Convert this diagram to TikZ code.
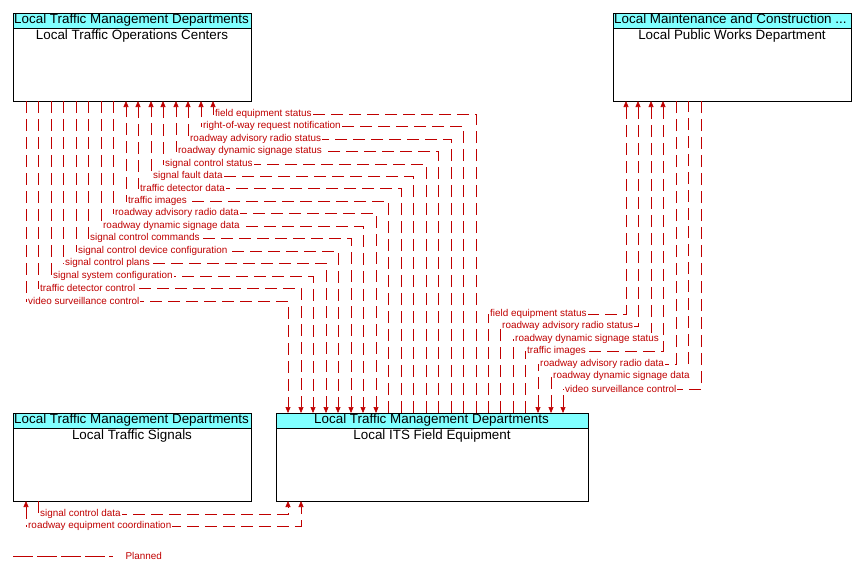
\documentclass[tikz,border=0pt]{standalone}
\usepackage{fontspec}
\setmainfont{Liberation Sans}
\usetikzlibrary{arrows.meta}
\definecolor{fl}{RGB}{192,0,0}
\definecolor{hd}{RGB}{128,255,255}
\tikzset{
 flow/.style={draw=fl,line width=0.6pt,dash pattern=on 12pt off 6pt,arrows={-Triangle[width=5pt,length=6pt]}},
 flowb/.style={flow,arrows={Triangle[width=5pt,length=6pt]-Triangle[width=5pt,length=6pt]}},
 lab/.style={text=fl,font=\fontsize{9.9}{10}\selectfont,fill=white,inner sep=1pt,anchor=west},
 hdr/.style={font=\fontsize{13.4}{14}\selectfont},
}
\newcommand{\ent}[6]{% name x1 y1 x2 y2 header
 \fill[hd] (#2,#3) rectangle (#4,#3+15);
 \draw[line width=0.8pt] (#2,#3) rectangle (#4,#5);
 \draw[line width=0.8pt] (#2,#3+15) -- (#4,#3+15);
 \node[hdr,anchor=north west,inner sep=0pt] at (#2+1,#3+1) {#6};
 \coordinate (#1) at (#2,#3);}
\newcommand{\ttl}[3]{\node[hdr,anchor=north,inner sep=0pt] at (#1,#2) {#3};}
\newcommand{\fl}[7]{%
 \coordinate (s) at (#1,#2); \coordinate (t) at (#4,#5);
 \draw[#7] (s) -- (#1,#3) -- (#4,#3) -- (t);
 \pgfmathsetmacro\lx{min(#1,#4)+1}
 \node[lab] at (\lx,#3) {#6};}
\begin{document}
\begin{tikzpicture}[x=1pt,y=-1pt]
\useasboundingbox (0,0) rectangle (860,574);
\ent{ltoc}{13}{13}{251}{101}{Local Traffic Management Departments}
\ttl{132}{30}{Local Traffic Operations Centers}
\ent{lpwd}{613}{13}{851}{101}{Local Maintenance and Construction ...}
\ttl{732}{30}{Local Public Works Department}
\ent{lts}{13}{413}{251}{501}{Local Traffic Management Departments}
\ttl{132}{430}{Local Traffic Signals}
\ent{lits}{276}{413}{588}{501}{\hspace{37pt}Local Traffic Management Departments}
\ttl{432}{430}{Local ITS Field Equipment}
\fl{476}{413}{114}{213}{101}{field equipment status}{flow}
\fl{463}{413}{126}{201}{101}{right-of-way request notification}{flow}
\fl{451}{413}{139}{188}{101}{roadway advisory radio status}{flow}
\fl{438}{413}{151}{176}{101}{roadway dynamic signage status}{flow}
\fl{426}{413}{164}{163}{101}{signal control status}{flow}
\fl{413}{413}{176}{151}{101}{signal fault data}{flow}
\fl{401}{413}{188}{138}{101}{traffic detector data}{flow}
\fl{388}{413}{201}{126}{101}{traffic images}{flow}
\fl{113}{101}{213}{376}{413}{roadway advisory radio data}{flow}
\fl{101}{101}{226}{363}{413}{roadway dynamic signage data}{flow}
\fl{88}{101}{238}{351}{413}{signal control commands}{flow}
\fl{76}{101}{251}{338}{413}{signal control device configuration}{flow}
\fl{63}{101}{263}{326}{413}{signal control plans}{flow}
\fl{51}{101}{276}{313}{413}{signal system configuration}{flow}
\fl{38}{101}{288}{301}{413}{traffic detector control}{flow}
\fl{26}{101}{301}{288}{413}{video surveillance control}{flow}
\fl{488}{413}{314}{626}{101}{field equipment status}{flow}
\fl{500}{413}{326}{638}{101}{roadway advisory radio status}{flow}
\fl{513}{413}{339}{651}{101}{roadway dynamic signage status}{flow}
\fl{525}{413}{351}{663}{101}{traffic images}{flow}
\fl{538}{413}{364}{676}{101}{roadway advisory radio data}{flow,arrows={Triangle[width=5pt,length=6pt]-}}
\fl{551}{413}{376}{688}{101}{roadway dynamic signage data}{flow,arrows={Triangle[width=5pt,length=6pt]-}}
\fl{563}{413}{389}{701}{101}{video surveillance control}{flow,arrows={Triangle[width=5pt,length=6pt]-}}
\fl{38}{501}{514}{288}{501}{signal control data}{flow}
\fl{26}{501}{526}{301}{501}{roadway equipment coordination}{flowb}
\draw[draw=fl,line width=0.6pt,dash pattern=on 20pt off 4pt] (13,556) -- (113,556);
\node[text=fl,font=\fontsize{9.9}{10}\selectfont,anchor=west] at (122,556) {Planned};
\end{tikzpicture}
\end{document}
